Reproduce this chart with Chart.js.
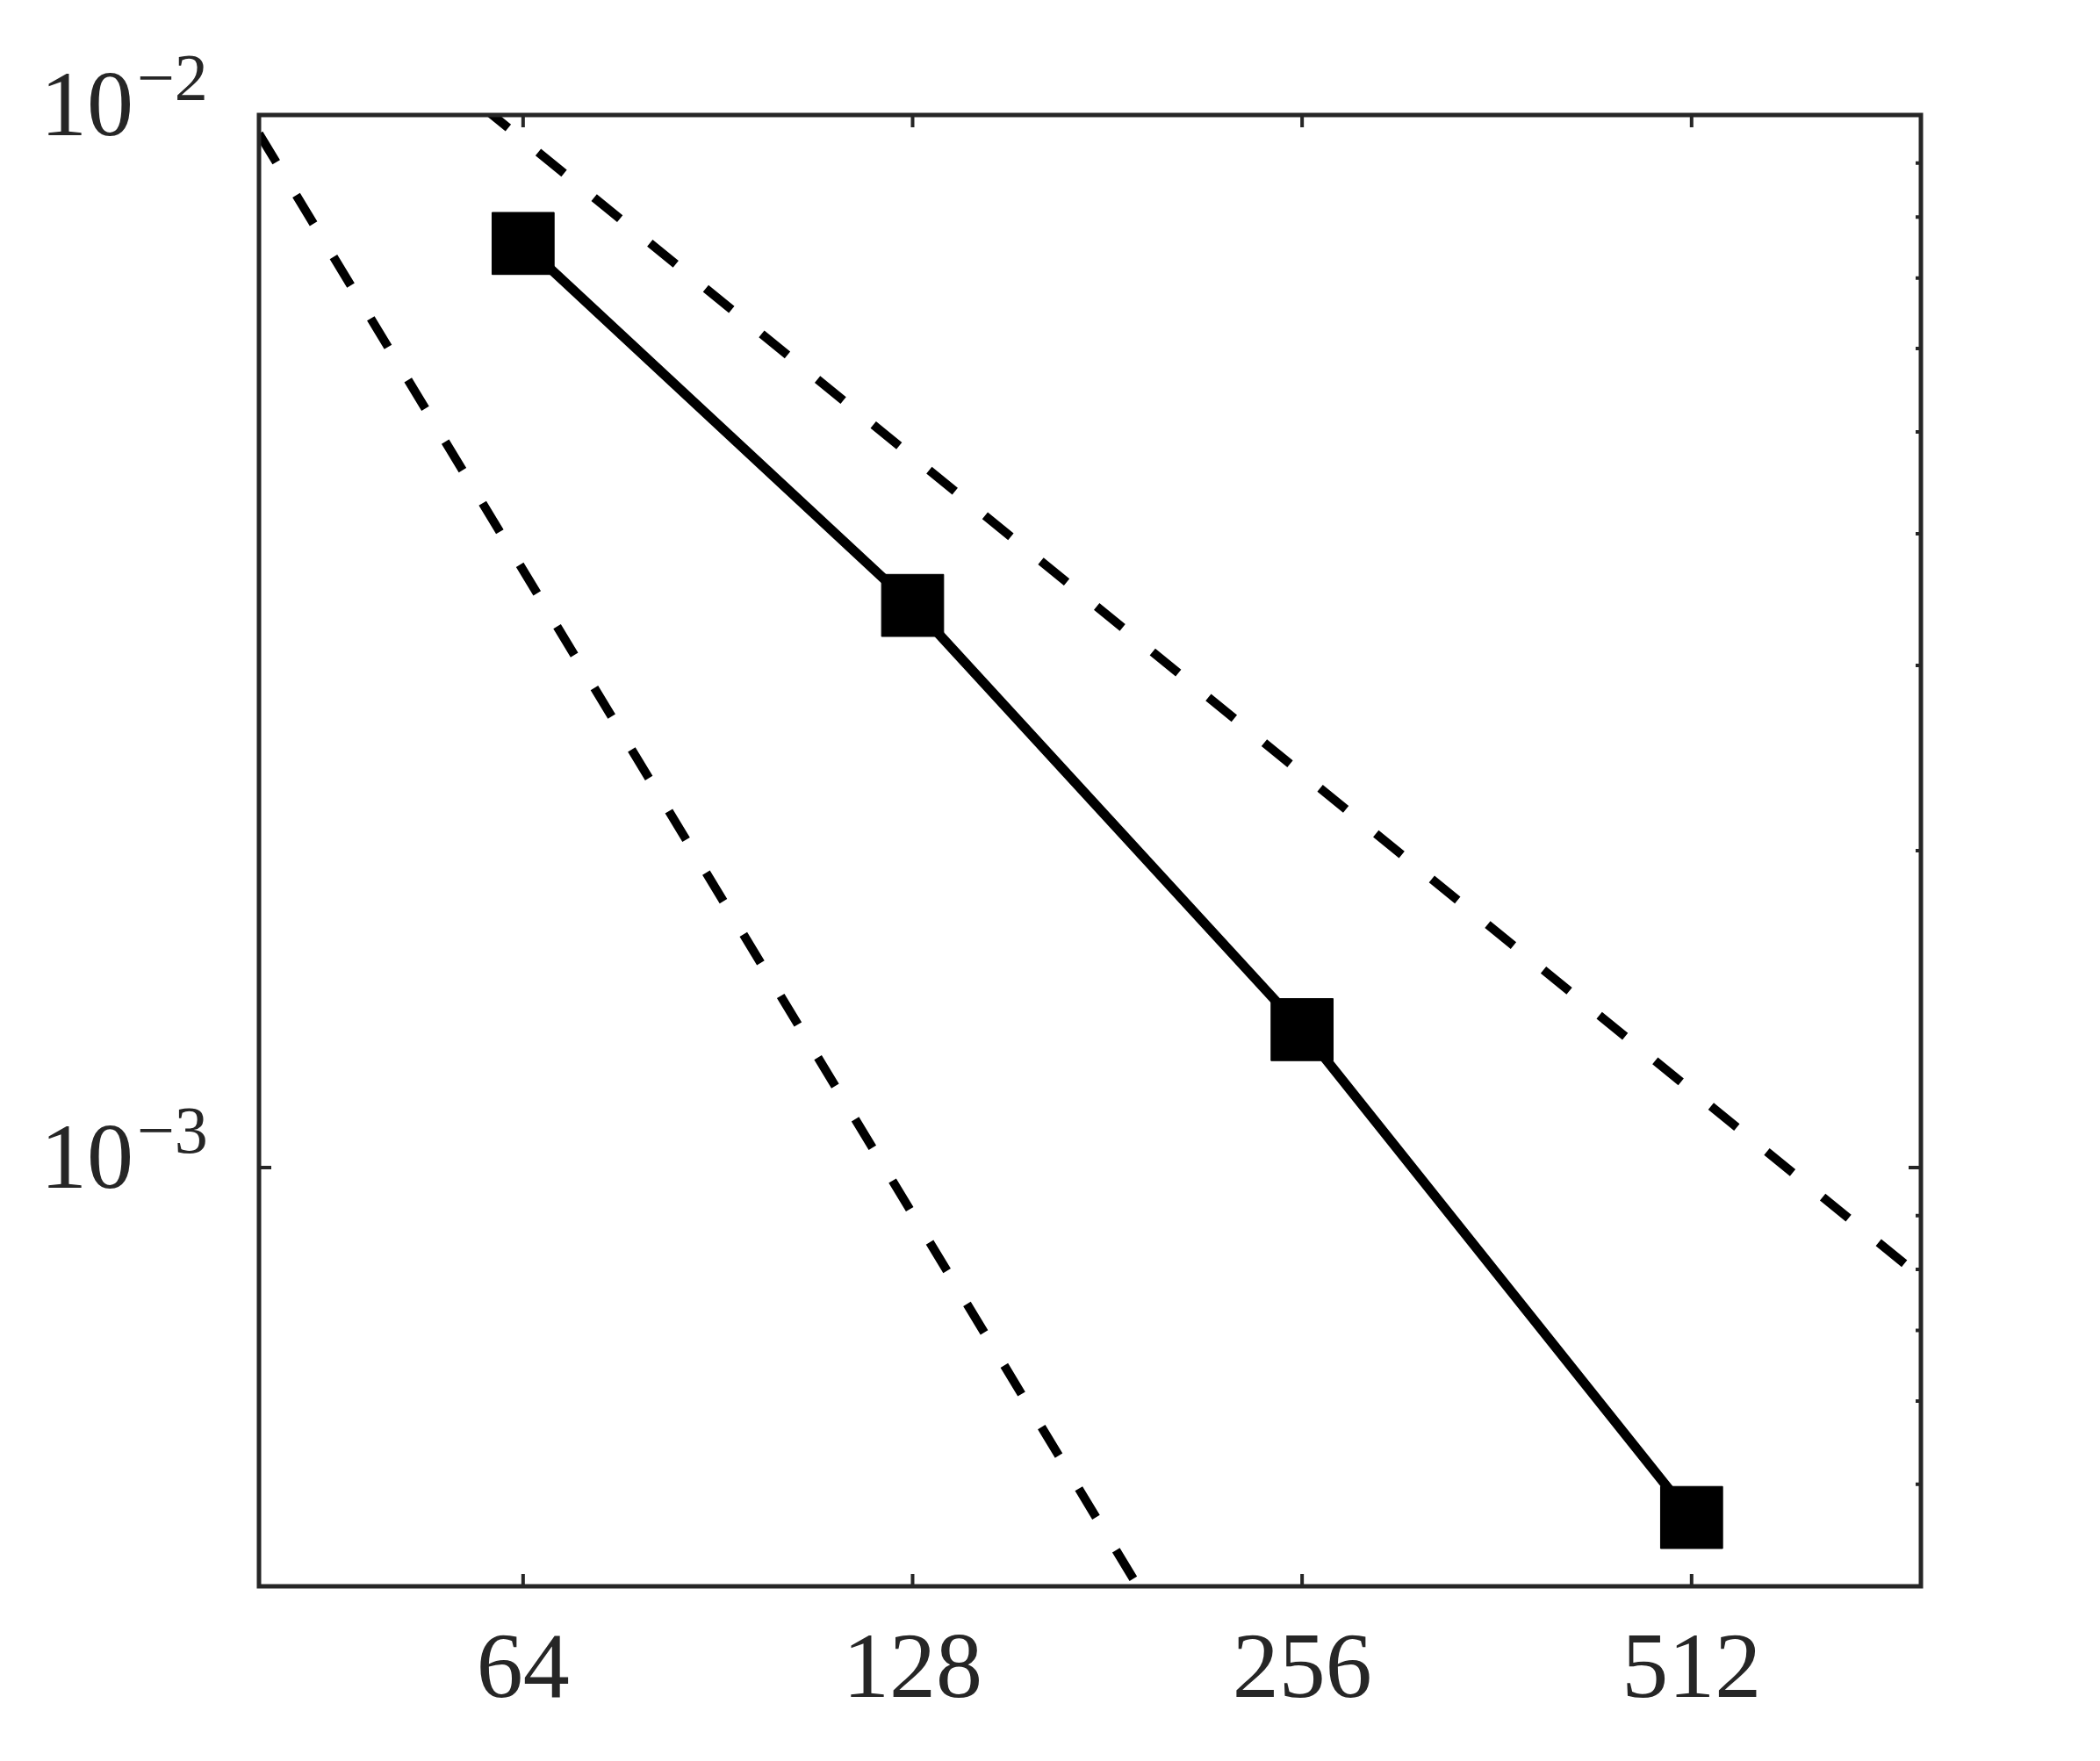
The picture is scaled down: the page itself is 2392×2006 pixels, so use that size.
<!DOCTYPE html>
<html>
<head>
<meta charset="utf-8">
<script src="https://cdn.jsdelivr.net/npm/chart.js@4"></script>
<style>
  html, body { margin: 0; padding: 0; background: #fff; }
  #wrap { width: 2392px; height: 2006px; position: relative; }
</style>
</head>
<body>
<div id="wrap"><canvas id="convChart"></canvas></div>
<script>
// grid resolution and measured error
const gridSizes = [64, 128, 256, 512];
const errors = [7.55e-3, 3.42e-3, 1.352e-3, 4.65e-4];

// reference slopes (first and second order), end points
const firstOrderX = [40, 770];
const firstOrderY = [1.515e-2, 7.87e-4];
const secondOrderX = [40, 196];
const secondOrderY = [9.6e-3, 3.8e-4];

// axes
const xRange = [40, 770];
const yRange = [4e-4, 1e-2];
const xTicks = [64, 128, 256, 512];
const yTicks = [1e-2, 1e-3];
const yTickExp = ['\u22122', '\u22123'];
const yMinorTicks = [9e-3, 8e-3, 7e-3, 6e-3, 5e-3, 4e-3, 3e-3, 2e-3, 9e-4, 8e-4, 7e-4, 6e-4, 5e-4];

const axisColor = '#262626';
const fontFamily = '"Liberation Serif", "DejaVu Serif", serif';

const toPoints = (xs, ys) => xs.map((x, i) => ({ x: x, y: ys[i] }));

// box, inward ticks and LaTeX-like labels, MATLAB style
const matlabAxes = {
    id: 'matlabAxes',
    afterDraw(chart) {
        const ctx = chart.ctx;
        const a = chart.chartArea;
        const xs = chart.scales.x;
        const ys = chart.scales.y;
        ctx.save();
        ctx.strokeStyle = axisColor;
        ctx.lineCap = 'butt';

        // ticks
        ctx.lineWidth = 4;
        const majorLen = 14;
        const minorLen = 6;
        ctx.beginPath();
        xTicks.forEach(v => {
            const px = xs.getPixelForValue(v);
            ctx.moveTo(px, a.bottom); ctx.lineTo(px, a.bottom - majorLen);
            ctx.moveTo(px, a.top); ctx.lineTo(px, a.top + majorLen);
        });
        yTicks.forEach(v => {
            const py = ys.getPixelForValue(v);
            ctx.moveTo(a.left, py); ctx.lineTo(a.left + majorLen, py);
            ctx.moveTo(a.right, py); ctx.lineTo(a.right - majorLen, py);
        });
        yMinorTicks.forEach(v => {
            const py = ys.getPixelForValue(v);
            ctx.moveTo(a.right, py); ctx.lineTo(a.right - minorLen, py);
        });
        ctx.stroke();

        // box
        ctx.lineWidth = 5;
        ctx.strokeRect(a.left, a.top, a.right - a.left, a.bottom - a.top);

        // x labels
        ctx.fillStyle = axisColor;
        ctx.font = '106px ' + fontFamily;
        ctx.textAlign = 'center';
        ctx.textBaseline = 'alphabetic';
        xTicks.forEach(v => {
            ctx.fillText(String(v), xs.getPixelForValue(v), a.bottom + 126);
        });

        // y labels 10^-n
        ctx.textAlign = 'left';
        yTicks.forEach((v, i) => {
            const py = ys.getPixelForValue(v);
            const base = py + 23;
            ctx.font = '106px ' + fontFamily;
            const x0 = 46;
            ctx.fillText('10', x0, base);
            const w = ctx.measureText('10').width;
            ctx.font = '76px ' + fontFamily;
            ctx.fillText(yTickExp[i], x0 + w + 4, base - 40);
        });
        ctx.restore();
    }
};

const ctx = document.getElementById('convChart').getContext('2d');

new Chart(ctx, {
    type: 'line',
    data: {
        datasets: [
            {
                label: 'first order',
                data: toPoints(firstOrderX, firstOrderY),
                borderColor: '#000',
                borderWidth: 10,
                borderDash: [38, 44],
                pointRadius: 0,
                fill: false,
                clip: 0
            },
            {
                label: 'second order',
                data: toPoints(secondOrderX, secondOrderY),
                borderColor: '#000',
                borderWidth: 10,
                borderDash: [38, 44],
                pointRadius: 0,
                fill: false,
                clip: 0
            },
            {
                label: 'error',
                data: toPoints(gridSizes, errors),
                borderColor: '#000',
                borderWidth: 11,
                pointStyle: 'rect',
                pointRadius: 50,
                pointBorderWidth: 1,
                pointBackgroundColor: '#000',
                pointBorderColor: '#000',
                fill: false,
                clip: false
            }
        ]
    },
    options: {
        responsive: true,
        maintainAspectRatio: false,
        animation: false,
        layout: {
            padding: { left: 295, top: 131, right: 204, bottom: 199 }
        },
        plugins: {
            legend: { display: false },
            tooltip: { enabled: false }
        },
        scales: {
            x: {
                type: 'logarithmic',
                min: xRange[0],
                max: xRange[1],
                display: false,
                afterBuildTicks: scale => { scale.ticks = xTicks.map(v => ({ value: v })); }
            },
            y: {
                type: 'logarithmic',
                min: yRange[0],
                max: yRange[1],
                display: false,
                afterBuildTicks: scale => { scale.ticks = yTicks.map(v => ({ value: v })); }
            }
        }
    },
    plugins: [matlabAxes]
});
</script>
</body>
</html>
